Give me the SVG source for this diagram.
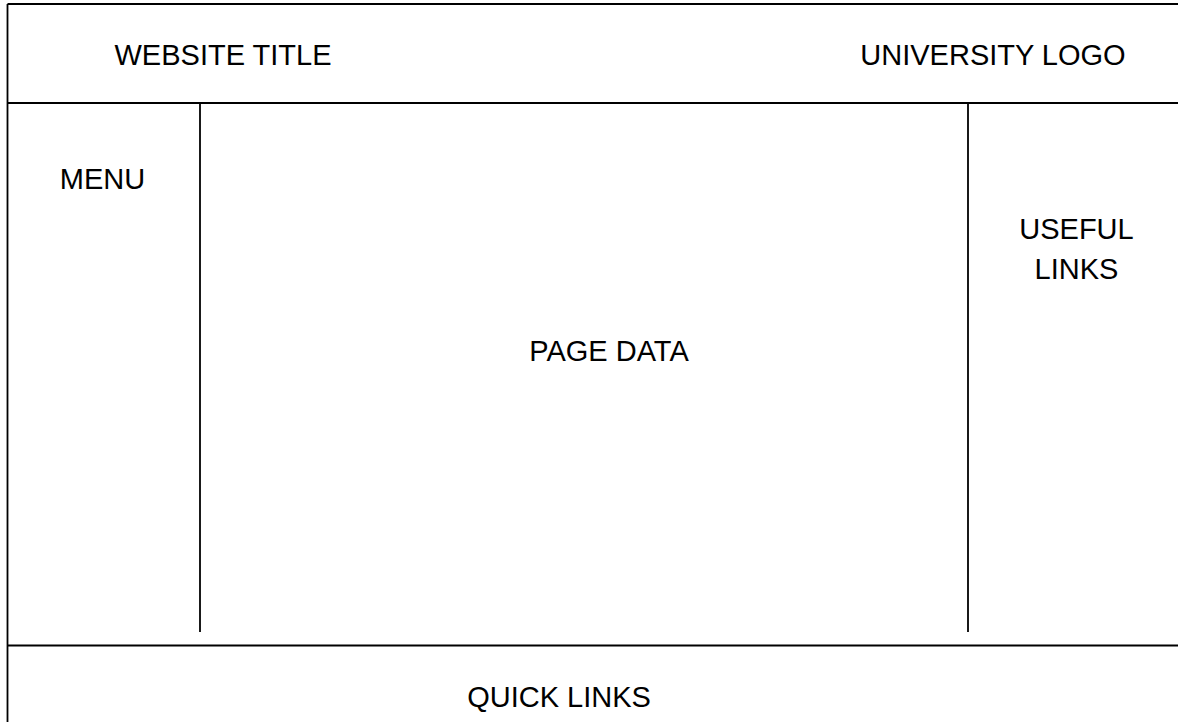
<svg xmlns="http://www.w3.org/2000/svg" width="1178" height="722" viewBox="0 0 1178 722">
<style>
.ln{stroke:#000;stroke-width:1.8;fill:none}
.t{font-family:"Liberation Sans",Arial,sans-serif;font-size:29px;fill:#000;text-anchor:middle}
</style>
<rect width="1178" height="722" fill="#fff"/>
<g id="connectors">
<line class="ln" x1="7.5" y1="4" x2="1178" y2="4"/>
<line class="ln" x1="7.5" y1="4" x2="7.5" y2="722"/>
<line class="ln" x1="7.5" y1="103" x2="1178" y2="103"/>
<line class="ln" x1="200" y1="103" x2="200" y2="632"/>
<line class="ln" x1="968" y1="103" x2="968" y2="632"/>
<line class="ln" x1="7.5" y1="645.5" x2="1178" y2="645.5"/>
</g>
<g id="website-title"><text class="t" x="223" y="65">WEBSITE TITLE</text></g>
<g id="university-logo"><text class="t" x="993" y="65">UNIVERSITY LOGO</text></g>
<g id="menu"><text class="t" x="102.5" y="189">MENU</text></g>
<g id="useful-links"><text class="t" x="1076.5" y="239">USEFUL</text><text class="t" x="1076.5" y="279">LINKS</text></g>
<g id="page-data"><text class="t" x="609" y="361">PAGE DATA</text></g>
<g id="quick-links"><text class="t" x="559" y="707">QUICK LINKS</text></g>
</svg>
